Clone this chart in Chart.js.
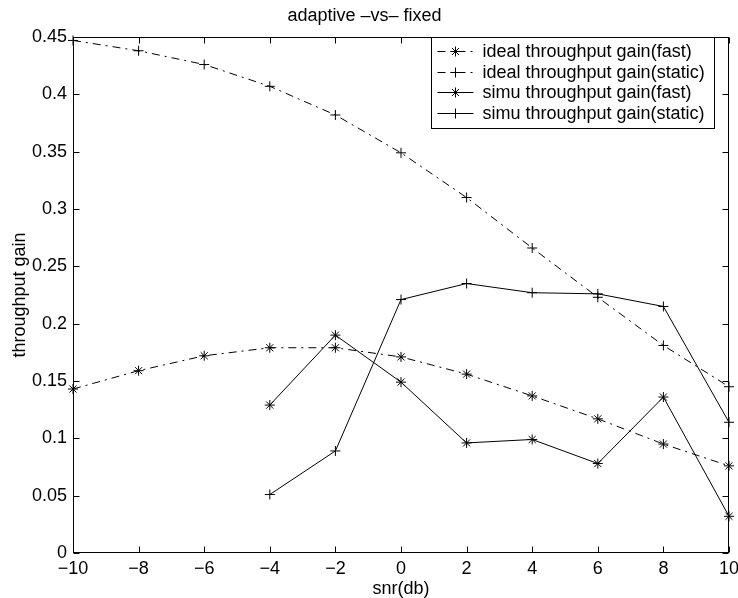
<!DOCTYPE html>
<html>
<head>
<meta charset="utf-8">
<script src="https://cdn.jsdelivr.net/npm/chart.js@4/dist/chart.umd.min.js"></script>
<style>
html,body{margin:0;padding:0;background:#fff;}
#wrap{width:738px;height:598px;}
</style>
</head>
<body>
<div id="wrap"><canvas id="c" width="738" height="598"></canvas></div>
<script>
// ---- data ----
const snr = [-10, -8, -6, -4, -2, 0, 2, 4, 6, 8, 10];
const idealFast = [0.143, 0.159, 0.172, 0.179, 0.179, 0.171, 0.156, 0.137, 0.117, 0.095, 0.076];
const idealStatic = [0.447, 0.438, 0.426, 0.407, 0.382, 0.349, 0.310, 0.266, 0.223, 0.181, 0.145];
const snrSimu = [-4, -2, 0, 2, 4, 6, 8, 10];
const simuFast = [0.129, 0.190, 0.149, 0.096, 0.099, 0.078, 0.136, 0.032];
const simuStatic = [0.051, 0.089, 0.221, 0.235, 0.227, 0.226, 0.215, 0.114];
const seriesLabels = [
  'ideal throughput gain(fast)',
  'ideal throughput gain(static)',
  'simu throughput gain(fast)',
  'simu throughput gain(static)'
];
const titleText = 'adaptive \u2013vs\u2013 fixed';
const xTitle = 'snr(db)';
const yTitle = 'throughput gain';

const FONT = 'Liberation Sans, Arial, Helvetica, sans-serif';
const DASHDOT = [8, 5, 2, 5];

function pts(xs, ys) { return xs.map((x, i) => ({x: x, y: ys[i]})); }

function ds(label, xs, ys, style, dashed) {
  return {
    label: label,
    data: pts(xs, ys),
    borderColor: '#000',
    backgroundColor: '#000',
    borderWidth: 1,
    borderDash: dashed ? DASHDOT : [],
    pointStyle: style,
    pointRadius: 5,
    pointHoverRadius: 5,
    pointBorderWidth: 1,
    pointBorderColor: '#000',
    pointBackgroundColor: '#000',
    tension: 0,
    fill: false,
    clip: false
  };
}

const framePlugin = {
  id: 'frame',
  afterDatasetsDraw(chart) {
    const ctx = chart.ctx, a = chart.chartArea;
    const xs = chart.scales.x, ys = chart.scales.y;
    const L = Math.round(a.left) + 0.5, R = Math.round(a.right) - 0.5;
    const T = Math.round(a.top) + 0.5, B = Math.round(a.bottom) - 0.5;
    ctx.save();
    ctx.strokeStyle = '#000';
    ctx.lineWidth = 1;
    ctx.setLineDash([]);
    ctx.strokeRect(L, T, R - L, B - T);
    const tl = 6;
    ctx.beginPath();
    xs.ticks.forEach(t => {
      const px = Math.round(xs.getPixelForValue(t.value)) + 0.5;
      ctx.moveTo(px, B); ctx.lineTo(px, B - tl);
      ctx.moveTo(px, T); ctx.lineTo(px, T + tl);
    });
    ys.ticks.forEach(t => {
      const py = Math.round(ys.getPixelForValue(t.value)) + 0.5;
      ctx.moveTo(L, py); ctx.lineTo(L + tl, py);
      ctx.moveTo(R, py); ctx.lineTo(R - tl, py);
    });
    ctx.stroke();
    ctx.restore();
  }
};

const boxLegendPlugin = {
  id: 'boxLegend',
  afterDraw(chart) {
    const ctx = chart.ctx, a = chart.chartArea;
    ctx.save();
    ctx.font = '18px ' + FONT;
    const labels = chart.data.datasets.map(d => d.label);
    let maxW = 0;
    labels.forEach(l => { maxW = Math.max(maxW, ctx.measureText(l).width); });
    const right = Math.round(a.right) - 15 + 0.5;
    const width = Math.round(maxW + 51 + 10);
    const left = right - width;
    const top = Math.round(a.top) + 0.5;
    const rowH = 20.6;
    const height = 91;
    ctx.fillStyle = '#fff';
    ctx.fillRect(left, top, width, height);
    ctx.strokeStyle = '#000';
    ctx.lineWidth = 1;
    ctx.setLineDash([]);
    ctx.strokeRect(left, top, width, height);
    chart.data.datasets.forEach((d, i) => {
      const cy = top + 13.5 + i * rowH;
      const x0 = left + 6, x1 = left + 42, xm = (x0 + x1) / 2;
      ctx.strokeStyle = '#000';
      ctx.lineWidth = 1;
      ctx.setLineDash(d.borderDash || []);
      ctx.lineDashOffset = 0;
      ctx.beginPath();
      ctx.moveTo(x0, Math.round(cy) + 0.5);
      ctx.lineTo(x1, Math.round(cy) + 0.5);
      ctx.stroke();
      ctx.setLineDash([]);
      Chart.helpers.drawPoint(ctx, {pointStyle: d.pointStyle, radius: 5, borderWidth: 1, rotation: 0}, xm, Math.round(cy) + 0.5);
      ctx.fillStyle = '#000';
      ctx.textBaseline = 'middle';
      ctx.textAlign = 'left';
      ctx.fillText(d.label, left + 51, cy + 1);
    });
    ctx.restore();
  }
};

new Chart(document.getElementById('c'), {
  type: 'line',
  data: {
    datasets: [
      ds(seriesLabels[0], snr, idealFast, 'star', true),
      ds(seriesLabels[1], snr, idealStatic, 'cross', true),
      ds(seriesLabels[2], snrSimu, simuFast, 'star', false),
      ds(seriesLabels[3], snrSimu, simuStatic, 'cross', false)
    ]
  },
  options: {
    responsive: false,
    animation: false,
    events: [],
    layout: {padding: {left: 0, right: 9, top: 0, bottom: 0}},
    plugins: {
      legend: {display: false},
      tooltip: {enabled: false},
      title: {
        display: true,
        text: titleText,
        color: '#000',
        font: {family: FONT, size: 18, weight: 'normal', lineHeight: 1.2},
        padding: {top: 5, bottom: 10.4}
      }
    },
    scales: {
      x: {
        type: 'linear',
        min: -10, max: 10,
        grid: {display: false, drawTicks: false},
        border: {display: false},
        ticks: {
          stepSize: 2,
          padding: 5,
          color: '#000',
          maxRotation: 0,
          autoSkip: false,
          font: {family: FONT, size: 18},
          callback: v => String(v).replace('-', '\u2212')
        },
        title: {
          display: true, text: xTitle, color: '#000',
          font: {family: FONT, size: 18, lineHeight: 1},
          padding: {top: 0, bottom: 0}
        },
        afterFit: s => { s.height = 45; s.paddingLeft = 0; s.paddingRight = 0; }
      },
      y: {
        type: 'linear',
        min: 0, max: 0.45,
        grid: {display: false, drawTicks: false},
        border: {display: false},
        ticks: {
          stepSize: 0.05,
          padding: 6,
          color: '#000',
          autoSkip: false,
          font: {family: FONT, size: 18},
          callback: v => String(Number(v.toFixed(2)))
        },
        title: {
          display: true, text: yTitle, color: '#000',
          font: {family: FONT, size: 18, lineHeight: 1.2},
          padding: {top: 9, bottom: 0}
        },
        afterFit: s => { s.width = 73; s.paddingTop = 0; s.paddingBottom = 0; }
      }
    }
  },
  plugins: [framePlugin, boxLegendPlugin]
});
</script>
</body>
</html>
